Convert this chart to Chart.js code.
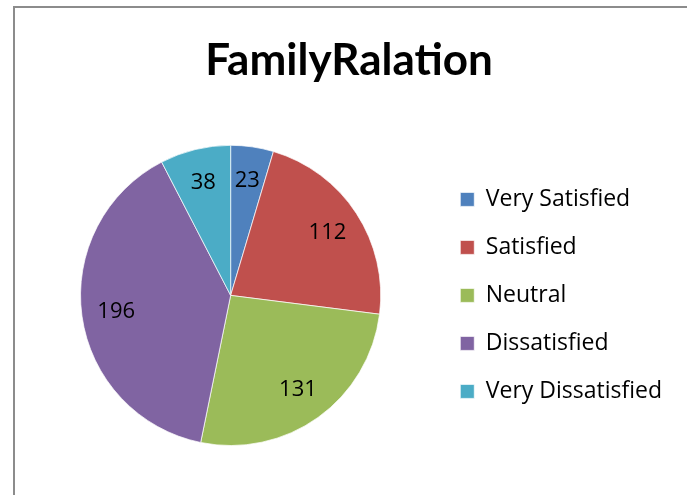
<!DOCTYPE html>
<html>
<head>
<meta charset="utf-8">
<script src="https://cdn.jsdelivr.net/npm/chart.js@4/dist/chart.umd.min.js"></script>
<style>
  html, body { margin: 0; padding: 0; background: #fff; overflow: hidden; }
  #box {
    position: absolute; left: 13px; top: 6px;
    width: 680px; height: 495px;
    border: 2px solid #8c8c8c;
    background: #fff;
  }
  #chart { display: block; }
</style>
</head>
<body>
<div id="box"><canvas id="chart" width="676" height="489"></canvas></div>
<script>
// FamilyRalation pie

const categories = ["Very Satisfied", "Satisfied", "Neutral", "Dissatisfied", "Very Dissatisfied"];
const counts = [23, 112, 131, 196, 38];
const sliceColors = ["#4F81BD", "#C0504D", "#9BBB59", "#8064A2", "#4BACC6"];

const textFont = "'Open Sans', sans-serif";

// valores dentro de cada porción
const sliceLabels = {
  id: "sliceLabels",
  afterDatasetsDraw(chart) {
    const ctx = chart.ctx;
    const meta = chart.getDatasetMeta(0);
    ctx.save();
    ctx.font = "22px " + textFont;
    ctx.fillStyle = "#000";
    ctx.textAlign = "center";
    ctx.textBaseline = "middle";
    meta.data.forEach((arc, i) => {
      const p = arc.getProps(["x", "y", "startAngle", "endAngle", "outerRadius"], true);
      const mid = (p.startAngle + p.endAngle) / 2;
      const r = p.outerRadius * 0.77;
      ctx.fillText(String(counts[i]), p.x + Math.cos(mid) * r, p.y + Math.sin(mid) * r);
    });
    ctx.restore();
  }
};

new Chart(document.getElementById("chart").getContext("2d"), {
  type: "pie",
  data: {
    labels: categories,
    datasets: [{
      data: counts,
      backgroundColor: sliceColors,
      borderColor: "rgba(255,255,255,0.7)",
      borderWidth: 1
    }]
  },
  options: {
    responsive: false,
    animation: false,
    layout: { padding: { left: 11, right: 19, bottom: 51, top: 0 } },
    plugins: {
      title: {
        display: true,
        text: "FamilyRalation",
        color: "#000",
        font: { family: "Lato, sans-serif", size: 44, weight: "bold" },
        padding: { top: 26, bottom: 58 }
      },
      legend: {
        position: "right",
        fullSize: false,
        labels: {
          color: "#000",
          font: { family: textFont, size: 23 },
          boxWidth: 14,
          boxHeight: 14,
          padding: 25
        }
      },
      tooltip: { enabled: false }
    }
  },
  plugins: [sliceLabels]
});
</script>
</body>
</html>
